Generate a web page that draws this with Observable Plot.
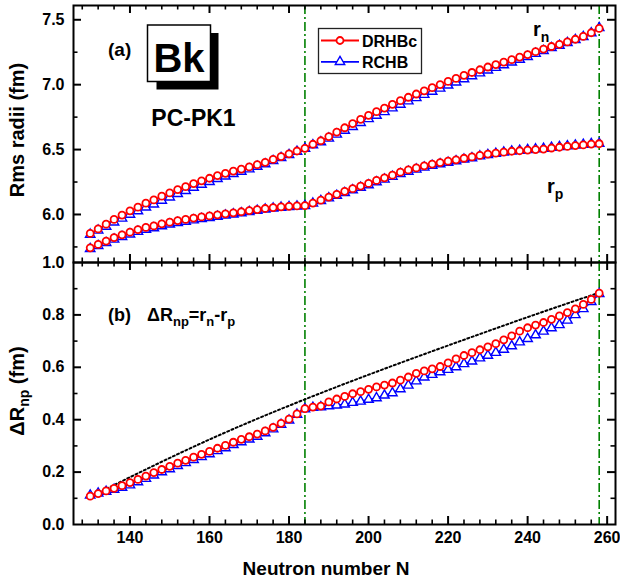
<!DOCTYPE html>
<html>
<head>
<meta charset="utf-8">
<script src="https://cdn.jsdelivr.net/npm/d3@7"></script>
<script src="https://cdn.jsdelivr.net/npm/@observablehq/plot@0.6"></script>
<style>
html,body{margin:0;padding:0;background:#fff;}
#chart{position:relative;width:620px;height:582px;color:#000;font-family:Arial,"Liberation Sans",sans-serif;}
#chart svg{position:absolute;left:0;top:0;}
</style>
</head>
<body>
<div id="chart"></div>
<script>
// ---------------- data ----------------
const neutrons = [130,132,134,136,138,140,142,144,146,148,150,152,154,156,158,160,162,164,166,168,170,172,174,176,178,180,182,184,
186,188,190,192,194,196,198,200,202,204,206,208,210,212,214,216,218,220,222,224,226,228,230,232,234,236,238,240,242,244,246,248,250,252,254,256,258];

const rnDRHBc = [5.854,5.889,5.925,5.962,5.995,6.028,6.056,6.087,6.112,6.141,6.166,6.192,6.214,6.238,6.259,6.279,6.300,6.317,6.334,6.350,6.366,6.384,6.402,6.424,6.446,6.467,6.489,6.510,
6.541,6.568,6.600,6.635,6.668,6.700,6.733,6.764,6.792,6.820,6.849,6.877,6.903,6.928,6.953,6.977,7.001,7.025,7.048,7.072,7.094,7.115,7.136,7.155,7.174,7.193,7.213,7.232,7.254,7.274,7.294,7.311,7.329,7.350,7.372,7.400,7.433];

const rnRCHB = [5.846,5.877,5.907,5.940,5.970,6.000,6.026,6.055,6.079,6.108,6.133,6.160,6.183,6.208,6.231,6.252,6.275,6.294,6.313,6.331,6.349,6.369,6.389,6.413,6.437,6.460,6.485,6.508,
6.535,6.558,6.586,6.617,6.647,6.676,6.707,6.736,6.762,6.790,6.819,6.847,6.873,6.898,6.923,6.947,6.971,6.995,7.019,7.044,7.067,7.089,7.111,7.131,7.151,7.172,7.194,7.215,7.239,7.261,7.283,7.302,7.322,7.345,7.369,7.398,7.438];

const rpDRHBc = [5.743,5.769,5.795,5.822,5.843,5.864,5.884,5.900,5.912,5.928,5.941,5.953,5.962,5.972,5.981,5.989,5.997,6.005,6.013,6.021,6.030,6.038,6.046,6.053,6.059,6.063,6.066,6.068,
6.088,6.110,6.134,6.155,6.178,6.199,6.219,6.239,6.262,6.282,6.303,6.326,6.343,6.359,6.375,6.388,6.400,6.411,6.421,6.433,6.443,6.455,6.465,6.472,6.480,6.487,6.491,6.496,6.500,6.504,6.512,6.518,6.524,6.531,6.536,6.542,6.545];

const rpRCHB = [5.735,5.758,5.782,5.808,5.828,5.848,5.868,5.884,5.896,5.911,5.924,5.936,5.946,5.956,5.966,5.975,5.984,5.993,6.002,6.011,6.021,6.030,6.039,6.047,6.054,6.059,6.063,6.066,
6.085,6.105,6.126,6.145,6.167,6.188,6.208,6.227,6.250,6.270,6.291,6.314,6.331,6.347,6.363,6.376,6.389,6.400,6.412,6.424,6.435,6.449,6.460,6.469,6.479,6.487,6.492,6.498,6.503,6.507,6.515,6.521,6.527,6.533,6.538,6.544,6.546];

const dRnpDRHBc = [0.108,0.118,0.128,0.138,0.148,0.160,0.172,0.185,0.198,0.210,0.222,0.234,0.245,0.257,0.268,0.279,0.291,0.302,0.314,0.325,0.335,0.345,0.357,0.371,0.386,0.402,0.422,0.442,
0.448,0.452,0.468,0.479,0.489,0.499,0.507,0.516,0.525,0.532,0.540,0.551,0.563,0.577,0.586,0.594,0.603,0.617,0.632,0.645,0.656,0.667,0.678,0.690,0.705,0.720,0.738,0.751,0.761,0.771,0.783,0.796,0.809,0.823,0.840,0.859,0.883];

const dRnpRCHB = [0.111,0.119,0.126,0.133,0.141,0.150,0.162,0.175,0.188,0.200,0.212,0.224,0.235,0.247,0.258,0.269,0.281,0.292,0.304,0.315,0.325,0.336,0.349,0.364,0.381,0.398,0.420,0.441,
0.446,0.448,0.452,0.455,0.459,0.465,0.470,0.477,0.483,0.493,0.502,0.517,0.531,0.547,0.562,0.572,0.582,0.591,0.601,0.613,0.623,0.635,0.645,0.656,0.668,0.681,0.696,0.709,0.723,0.737,0.750,0.762,0.779,0.800,0.823,0.850,0.880];

// dotted reference curve
const dotN = [130,146,162,178,194,210,226,242,258];
const dotRnp = [0.105,0.225,0.338,0.441,0.537,0.628,0.716,0.802,0.885];

// vertical marker lines
const markerN = [184,258];

// ticks
const xMajor = [140,160,180,200,220,240,260];
const xMinor = [128,132,136,144,148,152,156,164,168,172,176,184,188,192,196,204,208,212,216,224,228,232,236,244,248,252,256];
const yTopMajor = [6.0,6.5,7.0,7.5];
const yTopMinor = [5.75,6.25,6.75,7.25];
const yTopLabels = [6.0,6.5,7.0,7.5];
const yBotMajor = [0.2,0.4,0.6,0.8];
const yBotMinor = [0.1,0.3,0.5,0.7,0.9];
const yBotLabels = [0.0,0.2,0.4,0.6,0.8,1.0];

// ---------------- build tables ----------------
const topRed = [], topBlue = [], botRed = [], botBlue = [];
neutrons.forEach((n, i) => {
  topRed.push({N: n, v: rnDRHBc[i], k: "rn"});
  topRed.push({N: n, v: rpDRHBc[i], k: "rp"});
  topBlue.push({N: n, v: rnRCHB[i], k: "rn"});
  topBlue.push({N: n, v: rpRCHB[i], k: "rp"});
  botRed.push({N: n, v: dRnpDRHBc[i]});
  botBlue.push({N: n, v: dRnpRCHB[i]});
});
const dotted = dotN.map((n, i) => ({N: n, v: dotRnp[i]}));

// ---------------- layout ----------------
const W = 620, H = 582;
const mL = 73, mR = 5;
const innerW = W - mL - mR;
const xDomain = [125.8, 262.1];
const RED = "#ff0000", BLUE = "#0000ff", GREEN = "#008000";
const FONT = 'Arial, "Liberation Sans", sans-serif';

function frameTicks(innerH, yMaj, yMin) {
  return [
    Plot.tickX(xMajor, {x: d => d, insetTop: innerH - 8, strokeWidth: 2}),
    Plot.tickX(xMinor, {x: d => d, insetTop: innerH - 4.5, strokeWidth: 1.6}),
    Plot.tickX(xMajor, {x: d => d, insetBottom: innerH - 8, strokeWidth: 2}),
    Plot.tickX(xMinor, {x: d => d, insetBottom: innerH - 4.5, strokeWidth: 1.6}),
    Plot.tickY(yMaj, {y: d => d, insetRight: innerW - 8, strokeWidth: 2}),
    Plot.tickY(yMin, {y: d => d, insetRight: innerW - 4.5, strokeWidth: 1.6}),
    Plot.tickY(yMaj, {y: d => d, insetLeft: innerW - 8, strokeWidth: 2}),
    Plot.tickY(yMin, {y: d => d, insetLeft: innerW - 4.5, strokeWidth: 1.6})
  ];
}

const styleObj = {background: "transparent", overflow: "visible", fontFamily: FONT};

// ---------------- top panel (a) ----------------
const topMT = 5, topMB = H - 262;
const topInnerH = H - topMT - topMB;
const topPlot = Plot.plot({
  width: W, height: H,
  marginTop: topMT, marginBottom: topMB, marginLeft: mL, marginRight: mR,
  style: styleObj,
  x: {domain: xDomain, axis: null},
  y: {domain: [5.63, 7.61], axis: null},
  marks: [
    Plot.ruleX(markerN, {x: d => d, stroke: GREEN, strokeWidth: 1.6, strokeDasharray: "9,3,2,3"}),
    Plot.line(topBlue, {x: "N", y: "v", z: "k", stroke: BLUE, strokeWidth: 1.6}),
    Plot.dot(topBlue, {x: "N", y: "v", symbol: "triangle", r: 3.5, stroke: BLUE, fill: "white", strokeWidth: 1.4}),
    Plot.line(topRed, {x: "N", y: "v", z: "k", stroke: RED, strokeWidth: 1.6}),
    Plot.dot(topRed, {x: "N", y: "v", symbol: "circle", r: 3.5, stroke: RED, fill: "white", strokeWidth: 1.8}),
    Plot.frame({strokeWidth: 2}),
    ...frameTicks(topInnerH, yTopMajor, yTopMinor),
    Plot.text(yTopLabels, {y: d => d, text: d => d3.format(".1f")(d), frameAnchor: "left", textAnchor: "end", dx: -9, fontSize: 16, fontWeight: "bold"})
  ]
});

// ---------------- bottom panel (b) ----------------
const botMT = 262, botMB = 58;
const botInnerH = H - botMT - botMB;
const botPlot = Plot.plot({
  width: W, height: H,
  marginTop: botMT, marginBottom: botMB, marginLeft: mL, marginRight: mR,
  style: styleObj,
  x: {domain: xDomain, axis: null},
  y: {domain: [0, 1], axis: null},
  marks: [
    Plot.ruleX(markerN, {x: d => d, stroke: GREEN, strokeWidth: 1.6, strokeDasharray: "9,3,2,3"}),
    Plot.line(dotted, {x: "N", y: "v", curve: "natural", stroke: "black", strokeWidth: 2, strokeDasharray: "2,2.6"}),
    Plot.line(botBlue, {x: "N", y: "v", stroke: BLUE, strokeWidth: 1.6}),
    Plot.dot(botBlue, {x: "N", y: "v", symbol: "triangle", r: 3.5, stroke: BLUE, fill: "white", strokeWidth: 1.4}),
    Plot.line(botRed, {x: "N", y: "v", stroke: RED, strokeWidth: 1.6}),
    Plot.dot(botRed, {x: "N", y: "v", symbol: "circle", r: 3.5, stroke: RED, fill: "white", strokeWidth: 1.8}),
    Plot.frame({strokeWidth: 2}),
    ...frameTicks(botInnerH, yBotMajor, yBotMinor),
    Plot.text(yBotLabels, {y: d => d, text: d => d3.format(".1f")(d), frameAnchor: "left", textAnchor: "end", dx: -9, fontSize: 16, fontWeight: "bold"}),
    Plot.text(xMajor, {x: d => d, text: d => String(d), frameAnchor: "bottom", dy: 18, fontSize: 16, fontWeight: "bold"})
  ]
});

const chart = document.getElementById("chart");
chart.appendChild(topPlot);
chart.appendChild(botPlot);

// ---------------- annotations ----------------
const ta = d3.select(topPlot).append("g").attr("font-family", FONT).attr("font-weight", "bold")
  .attr("fill", "black").attr("text-anchor", "start");

// y title (a)
ta.append("text").attr("transform", "translate(24,130) rotate(-90)").attr("text-anchor", "middle")
  .attr("font-size", 20).text("Rms radii (fm)");

// (a)
ta.append("text").attr("x", 108).attr("y", 56).attr("font-size", 19).text("(a)");

// Bk box with shadow
ta.append("rect").attr("x", 156.5).attr("y", 33).attr("width", 62).attr("height", 56.5).attr("fill", "black");
ta.append("rect").attr("x", 147.5).attr("y", 25).attr("width", 63).attr("height", 56.5).attr("fill", "white").attr("stroke", "black").attr("stroke-width", 1.5);
ta.append("text").attr("x", 179).attr("y", 71.5).attr("text-anchor", "middle").attr("font-size", 40).text("Bk");

// PC-PK1
ta.append("text").attr("x", 193.5).attr("y", 126).attr("text-anchor", "middle").attr("font-size", 23).text("PC-PK1");

// legend
const lg = ta.append("g");
lg.append("rect").attr("x", 318.5).attr("y", 28.5).attr("width", 103).attr("height", 45).attr("fill", "white").attr("stroke", "#222").attr("stroke-width", 1.3);
const legendItems = [
  {label: "DRHBc", color: RED, sym: d3.symbolCircle, y: 40.5},
  {label: "RCHB", color: BLUE, sym: d3.symbolTriangle, y: 61.8}
];
legendItems.forEach(it => {
  lg.append("line").attr("x1", 321).attr("x2", 359).attr("y1", it.y).attr("y2", it.y).attr("stroke", it.color).attr("stroke-width", 1.8);
  const r = 3.5;
  lg.append("path").attr("d", d3.symbol(it.sym, r * r * Math.PI)()).attr("transform", `translate(340,${it.y})`)
    .attr("fill", "white").attr("stroke", it.color).attr("stroke-width", it.sym === d3.symbolCircle ? 1.8 : 1.4);
  lg.append("text").attr("x", 362).attr("y", it.y + 6).attr("font-size", 16).text(it.label);
});

// r_n and r_p labels
function subLabel(g, x, y, main, sub) {
  const t = g.append("text").attr("x", x).attr("y", y).attr("font-size", 20);
  t.append("tspan").text(main);
  t.append("tspan").attr("dy", 6).attr("font-size", 14).text(sub);
}
subLabel(ta, 533, 36, "r", "n");
subLabel(ta, 547, 193, "r", "p");

const tb = d3.select(botPlot).append("g").attr("font-family", FONT).attr("font-weight", "bold")
  .attr("fill", "black").attr("text-anchor", "start");

// y title (b)
const yt = tb.append("text").attr("transform", "translate(24,391) rotate(-90)").attr("text-anchor", "middle").attr("font-size", 20);
yt.append("tspan").text("ΔR");
yt.append("tspan").attr("dy", 5).attr("font-size", 14).text("np");
yt.append("tspan").attr("dy", -5).text(" (fm)");

// (b) label
tb.append("text").attr("x", 108).attr("y", 321).attr("font-size", 18).text("(b)");
const bt = tb.append("text").attr("x", 147).attr("y", 321).attr("font-size", 18);
bt.append("tspan").text("ΔR");
bt.append("tspan").attr("dy", 5).attr("font-size", 13).text("np");
bt.append("tspan").attr("dy", -5).text("=r");
bt.append("tspan").attr("dy", 5).attr("font-size", 13).text("n");
bt.append("tspan").attr("dy", -5).text("-r");
bt.append("tspan").attr("dy", 5).attr("font-size", 13).text("p");

// x title
tb.append("text").attr("x", 326).attr("y", 575).attr("text-anchor", "middle").attr("font-size", 19).text("Neutron number N");
</script>
</body>
</html>
